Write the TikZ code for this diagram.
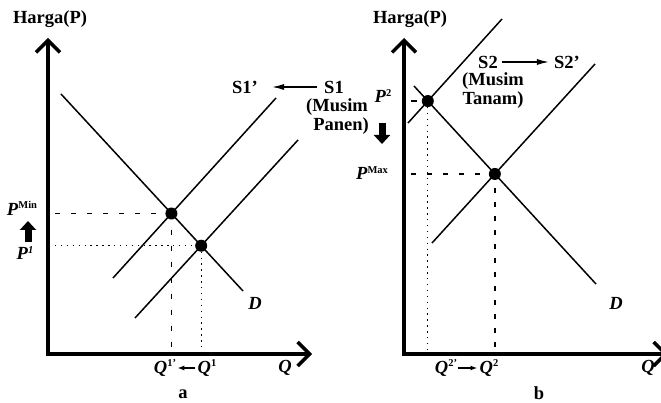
\documentclass[tikz,border=0pt]{standalone}
\usepackage{fontspec}
\setmainfont{Liberation Serif}
\usetikzlibrary{arrows.meta}
\newcommand{\mysup}[1]{\raisebox{0.8ex}{\fontsize{10.5}{10.5}\selectfont #1}}
\begin{document}
\begin{tikzpicture}[x=1pt,y=-1pt,
  lbl/.style={font=\fontsize{18.5}{20}\selectfont\bfseries, inner sep=0pt},
  axisarr/.style={line width=4.5pt, line join=miter,
    {Straight Barb[length=12pt,width=24pt,line width=3.5pt]}-{Straight Barb[length=12pt,width=24pt,line width=3.5pt]}},
  sdline/.style={line width=1.5pt},
  eqdot/.style={circle, fill=black, minimum size=12pt, inner sep=0pt},
  dashguide/.style={line width=1.3pt, dash pattern=on 5pt off 11pt},
  dotguide/.style={line width=1.3pt, dash pattern=on 1.4pt off 4.5pt},
  blockarr/.style={line width=7pt, -{Triangle[length=9pt,width=16pt]}},
  shiftarr/.style={line width=1.3pt, -{Latex[length=12pt,width=6pt]}}
]
\clip (0,0) rectangle (661,403);
\fill[white] (0,0) rectangle (661,403);

% ---------- panel a ----------
\coordinate (Yl) at (48,38);
\coordinate (Ol) at (48,354);
\coordinate (Xl) at (312,354);
\draw[axisarr] (Yl) -- (Ol) -- (Xl);
\node[lbl] (harga1) at (50,19) {Harga(P)};

\coordinate (Da1) at (61,94);   \coordinate (Db1) at (243,291);
\coordinate (Spa) at (113,278); \coordinate (Spb) at (276,98);
\coordinate (Sa) at (135,318);  \coordinate (Sb) at (298,140);
\draw[sdline] (Da1) -- (Db1);
\draw[sdline] (Spa) -- (Spb);
\draw[sdline] (Sa) -- (Sb);

\coordinate (E1) at (intersection of Da1--Db1 and Spa--Spb);
\coordinate (E2) at (intersection of Da1--Db1 and Sa--Sb);
\coordinate (H1) at (55,0);
\draw[dashguide] (H1 |- E1) -- (E1);
\draw[dotguide] (H1 |- E2) -- (E2);
\draw[dashguide] (E1) -- (E1 |- Ol);
\draw[dotguide] (E2) -- (E2 |- Ol);
\node[eqdot] (e1) at (E1) {};
\node[eqdot] (e2) at (E2) {};

\node[lbl] (pmin) at (22,208) {\textit{P}\mysup{Min}};
\coordinate (ua) at (28,242);
\coordinate (ub) at (28,221);
\draw[blockarr] (ua) -- (ub);
\node[lbl] (p1) at (25,253) {\textit{P}\mysup{\textit{1}}};

\node[lbl] (q1p) at (165,368) {\textit{Q}\mysup{1’}};
\node[lbl] (q1) at (207,368) {\textit{Q}\mysup{1}};
\draw[line width=1.5pt, -{Latex[length=7pt,width=5pt]}, shorten <=2pt, shorten >=1pt] (q1.west) -- (q1p.east);
\node[lbl] (ql) at (285,368) {\textit{Q}};
\node[lbl] (dl) at (255,303) {\textit{D}};
\node[lbl] (a) at (183,394) {a};

\node[lbl] (s1p) at (245,87) {S1’};
\node[lbl] (s1) at (334,87) {S1};
\draw[shiftarr, shorten <=7pt, shorten >=14pt] (s1.west) -- (s1p.east);
\node[lbl, align=center] (panen) at (337,117) {(Musim\\[-1pt]\hspace*{8pt}Panen)};

% ---------- panel b ----------
\coordinate (Yr) at (404,38);
\coordinate (Or) at (404,354);
\coordinate (Xr) at (668,354);
\draw[axisarr] (Yr) -- (Or) -- (Xr);
\node[lbl] (harga2) at (410,19) {Harga(P)};

\coordinate (Da2) at (414,86);  \coordinate (Db2) at (596,284);
\coordinate (Ta) at (408,123);  \coordinate (Tb) at (502,19);
\coordinate (Tpa) at (432,243); \coordinate (Tpb) at (595,64);
\draw[sdline] (Da2) -- (Db2);
\draw[sdline] (Ta) -- (Tb);
\draw[sdline] (Tpa) -- (Tpb);

\coordinate (E3) at (intersection of Da2--Db2 and Ta--Tb);
\coordinate (E4) at (intersection of Da2--Db2 and Tpa--Tpb);
\coordinate (H2) at (411,0);
\draw[line width=1.3pt, dash pattern=on 6pt off 20pt] (H2 |- E3) -- (E3);
\draw[dashguide] (H2 |- E4) -- (E4);
\draw[dotguide] (E3) -- (E3 |- Or);
\draw[line width=1.3pt, dash pattern=on 5pt off 9pt] (E4) -- (E4 |- Or);
\node[eqdot] (e3) at (E3) {};
\node[eqdot] (e4) at (E4) {};

\node[lbl] (p2) at (383,96) {\textit{P}\mysup{2}};
\coordinate (da) at (382,123);
\coordinate (db) at (382,144);
\draw[blockarr] (da) -- (db);
\node[lbl] (pmax) at (372,173) {\textit{P}\mysup{Max}};

\node[lbl] (q2p) at (446,368) {\textit{Q}\mysup{2’}};
\node[lbl] (q2) at (489,368) {\textit{Q}\mysup{2}};
\draw[line width=1.5pt, -{Latex[length=7pt,width=5pt]}, shorten <=1pt, shorten >=2pt] (q2p.east) -- (q2.west);
\node[lbl] (qr) at (648,368) {\textit{Q}};
\node[lbl] (dr) at (616,303) {\textit{D}};
\node[lbl] (b) at (539,393) {b};

\node[lbl] (s2) at (488,62) {S2};
\node[lbl] (s2p) at (567,62) {S2’};
\draw[shiftarr, shorten <=4pt, shorten >=5pt] (s2.east) -- (s2p.west);
\node[lbl, align=center] (tanam) at (493,91) {(Musim\\[-1pt]Tanam)};
\end{tikzpicture}
\end{document}
